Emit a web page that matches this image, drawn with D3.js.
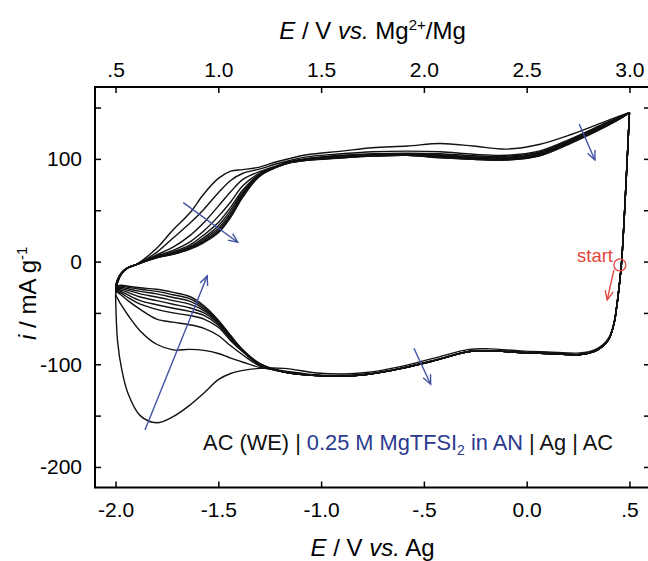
<!DOCTYPE html>
<html><head><meta charset="utf-8">
<script src="https://cdn.jsdelivr.net/npm/d3@7"></script>
<style>body{margin:0;background:#fff}svg{display:block}text{font-family:"Liberation Sans",Arial,Helvetica,sans-serif}</style>
</head><body><svg id="c" width="648" height="561"></svg>
<script>
// ---------- data ----------
// anodic (upper) branch potentials, E / V vs. Ag
const potentialUp = [-2.0,-1.99,-1.97,-1.94,-1.9,-1.8,-1.72,-1.64,-1.57,-1.5,-1.44,-1.38,-1.3,-1.22,-1.15,-1.07,-0.9,-0.75,-0.58,-0.42,-0.26,-0.1,0.06,0.22,0.39,0.47,0.5];
// cathodic (lower) branch potentials, E / V vs. Ag
const potentialDown = [0.5,0.462,0.452,0.44,0.425,0.4,0.37,0.33,0.26,0.1,-0.03,-0.18,-0.28,-0.45,-0.62,-0.78,-0.89,-1.02,-1.18,-1.3,-1.38,-1.44,-1.5,-1.57,-1.64,-1.72,-1.8,-1.88,-1.94,-1.97,-1.99,-2.0];

// currents (mA/g), upper branch per cycle
const up1  = [-32,-21,-12,-6.5,-3, 13,31,47,66,81,88,89.5,92,97,100.5, 104,107.6,110.8,112.5,115,112.5,109.5,114,124,137,143,145];
const up2  = [-32,-20,-11.5,-6,-3, 9,23,37,51,67,79,86,90,95,98.5, 102,105,107,107.6,107,104.5,103.5,107.5,120,135.5,142,145];
const up3  = [-29,-19,-11,-6,-3, 6.5,14,25,38,54,68,80,87.5,93,97.5, 100.5,103.5,105,105.5,105,103,102.5,106.5,119.5,135,142,145];
const up4  = [-28,-18.5,-11,-6,-3, 5.5,11,19,30,44,58,74,86,92.5,97, 100,102.8,104.3,104.8,104,102,101.5,105.5,118.5,134.5,141.8,145];
const up5  = [-28,-18.5,-11,-6,-3, 5,9.5,16,26,38,53,70,85,92.2,96.8, 99.7,102.3,103.8,104.3,103.3,101.3,100.8,104.8,117.8,134,141.6,145];
const up6  = [-27,-18,-11,-6,-3, 4.5,8.5,14.5,23.5,35,50,68,84.5,92,96.6, 99.4,101.9,103.4,103.9,102.7,100.8,100.2,104.2,117.2,133.5,141.4,145];
const up7  = [-26,-18,-11,-6,-3, 4.2,8,13.5,22,32.5,47.5,66.5,84,91.9,96.5, 99.1,101.6,103.1,103.7,102.2,100.4,99.8,103.7,116.7,133,141.3,145];
const up8  = [-25,-17.5,-10.5,-6,-3, 4,7.5,12.8,20.5,30.5,45.5,65,83.5,91.8,96.4, 98.9,101.3,102.9,103.5,101.7,100,99.3,103.3,116.3,132.6,141.2,145];
const up9  = [-25,-17.5,-10.5,-6,-3, 3.8,7.2,12.3,19.5,29,44,64,83.2,91.7,96.3, 98.7,101.1,102.8,103.4,101.3,99.7,99,103,116,132.3,141.1,145];
const up10 = [-25,-17,-10.5,-6,-3, 3.7,7,11.8,18.5,28,43,63,83,91.7,96.3, 98.5,101,102.7,103.4,101,99.5,98.8,102.7,115.7,132,141,145];

// currents (mA/g), lower branch per cycle (cycle 1 begins at the "start" point)
const down1  = [null,-4,-20,-40,-59,-74,-81,-86,-89,-88,-87,-85,-85.5,-94,-102.5,-108,-109.5,-108.5,-104, -104,-106,-109,-115,-128,-140,-151,-157,-150,-128,-105,-78,-32];
const down2  = [145,0,-20.5,-41,-60.5,-75.5,-82.5,-87.5,-90.5,-89.5,-88.5,-87,-87.5,-96,-104,-109.5,-111,-110.5,-106.5, -103,-98,-94,-89.5,-86.5,-85.5,-86,-80.5,-67.5,-52,-43,-36,-32];
const down3  = [145,0,-20.5,-41,-60.5,-75.5,-82.5,-87.5,-90.5,-89.5,-88.5,-87,-87.5,-96.5,-104.5,-110,-111.5,-111,-107.5, -101.5,-91,-82,-72,-65,-61.5,-59,-56,-46.5,-38,-33,-30,-29];
const down4  = [145,0,-20.5,-41,-60.5,-75.5,-82.5,-87.5,-90.5,-89.5,-88.5,-87,-87.5,-96.5,-104.5,-110,-111.5,-111,-107.5, -100.5,-88,-77,-64,-56,-52.5,-50,-46.5,-41.5,-35,-31,-29,-28];
const down5  = [145,0,-20.5,-41,-60.5,-75.5,-82.5,-87.5,-90.5,-89.5,-88.5,-87,-87.5,-96.5,-104.5,-110,-111.5,-111,-107.5, -100.2,-87.5,-75.5,-62,-52.5,-48.5,-45.5,-42,-38,-32.5,-29.5,-28,-28];
const down6  = [145,0,-20.5,-41,-60.5,-75.5,-82.5,-87.5,-90.5,-89.5,-88.5,-87,-87.5,-96.5,-104.5,-110,-111.5,-111,-107.5, -100,-87.2,-74.5,-60.5,-50,-45,-41.5,-38,-34.5,-30,-28,-27,-27];
const down7  = [145,0,-20.5,-41,-60.5,-75.5,-82.5,-87.5,-90.5,-89.5,-88.5,-87,-87.5,-96.5,-104.5,-110,-111.5,-111,-107.5, -99.7,-87,-73.8,-59.3,-47.8,-41.5,-38,-34.5,-31.5,-28,-26.5,-26,-26];
const down8  = [145,0,-20.5,-41,-60.5,-75.5,-82.5,-87.5,-90.5,-89.5,-88.5,-87,-87.5,-96.5,-104.5,-110,-111.5,-111,-107.5, -99.5,-86.7,-73,-58.3,-46,-38.5,-35,-31.5,-29,-26.5,-25,-25,-25];
const down9  = [145,0,-20.5,-41,-60.5,-75.5,-82.5,-87.5,-90.5,-89.5,-88.5,-87,-87.5,-96.5,-104.5,-110,-111.5,-111,-107.5, -99.2,-86.3,-72.5,-57.6,-44.5,-36,-32.3,-29,-27,-25,-24,-24,-25];
const down10 = [145,0,-20.5,-41,-60.5,-75.5,-82.5,-87.5,-90.5,-89.5,-88.5,-87,-87.5,-96.5,-104.5,-110,-111.5,-111,-107.5, -99,-86,-72,-57,-43,-34,-30,-27,-25.5,-24,-23,-23.5,-25];

const upCycles = [up1,up2,up3,up4,up5,up6,up7,up8,up9,up10];
const downCycles = [down1,down2,down3,down4,down5,down6,down7,down8,down9,down10];

const xTicks = [-2.0,-1.5,-1.0,-0.5,0.0,0.5];
const xTickLabels = ["-2.0","-1.5","-1.0","-.5","0.0",".5"];
const topTicks = [0.5,1.0,1.5,2.0,2.5,3.0];
const topTickLabels = [".5","1.0","1.5","2.0","2.5","3.0"];
const yTicks = [-200,-150,-100,-50,0,50,100,150];
const yTickLabels = ["-200","","-100","","0","","100",""];

// annotation arrows [E0,i0,E1,i1]
const blueArrows = [[-1.6705,57.4,-1.4059,18.8],[-1.857,-164,-1.554,-14],[0.2555,134,0.332,98.9],[-0.5485,-84.4,-0.467,-119.5]];
const redArrow = [0.4243,-8.2,0.3917,-37.4];
const startPoint = [0.4535,-3.3];

// ---------- chart ----------
const svg = d3.select("#c");
const L=95,R=650,T=87,B=487.5;
const x = d3.scaleLinear().domain([-2.1,0.6]).range([L,R]);
const xTop = d3.scaleLinear().domain([0.4,3.1]).range([L,R]);
const y = d3.scaleLinear().domain([-220,170]).range([B,T]);

svg.append("rect").attr("width",648).attr("height",561).attr("fill","#fff");
svg.append("defs").append("clipPath").attr("id","clip").append("rect")
  .attr("x",L).attr("y",T).attr("width",R-L).attr("height",B-T);

const fs = 21;
function styleAxis(g){
  g.select(".domain").remove();
  g.selectAll(".tick line").attr("stroke","#000").attr("stroke-width",1.5);
  g.selectAll(".tick text").attr("font-size",fs).attr("fill","#000")
   .attr("font-family",'"Liberation Sans",Arial,sans-serif');
}
svg.append("g").attr("transform",`translate(0,${B})`)
  .call(d3.axisBottom(x).tickValues(xTicks).tickSize(-6).tickPadding(14.5).tickFormat((d,i)=>xTickLabels[i]))
  .call(styleAxis);
svg.append("g").attr("transform",`translate(0,${T})`)
  .call(d3.axisTop(xTop).tickValues(topTicks).tickSize(-6).tickPadding(10).tickFormat((d,i)=>topTickLabels[i]))
  .call(styleAxis);
svg.append("g").attr("transform",`translate(${L},0)`)
  .call(d3.axisLeft(y).tickValues(yTicks).tickSize(-6).tickPadding(13).tickFormat((d,i)=>yTickLabels[i]))
  .call(styleAxis);
svg.append("g").attr("transform",`translate(${R},0)`)
  .call(d3.axisRight(y).tickValues(yTicks).tickSize(-6).tickFormat(""))
  .call(styleAxis);

// curves
const line = d3.line().defined(d=>d[1]!==null).x(d=>x(d[0])).y(d=>y(d[1])).curve(d3.curveCatmullRom.alpha(0.5));
const plot = svg.append("g").attr("clip-path","url(#clip)");
for(let c=0;c<upCycles.length;c++){
  const down = potentialDown.map((e,k)=>[e,downCycles[c][k]]);
  const upp = potentialUp.map((e,k)=>[e,upCycles[c][k]]);
  plot.append("path").attr("d",line(down)).attr("fill","none").attr("stroke","#111").attr("stroke-width",1.4);
  plot.append("path").attr("d",line(upp)).attr("fill","none").attr("stroke","#111").attr("stroke-width",1.4);
}

// frame
svg.append("rect").attr("x",L).attr("y",T).attr("width",R-L).attr("height",B-T)
  .attr("fill","none").attr("stroke","#000").attr("stroke-width",2);

// arrows
function arrow(a,color,w){
  const x0=x(a[0]),y0=y(a[1]),x1=x(a[2]),y1=y(a[3]);
  const ang=Math.atan2(y1-y0,x1-x0), hl=10, ha=0.42;
  const g=svg.append("g").attr("stroke",color).attr("stroke-width",w).attr("fill","none");
  g.append("line").attr("x1",x0).attr("y1",y0).attr("x2",x1).attr("y2",y1);
  g.append("path").attr("d",`M${x1-hl*Math.cos(ang-ha)},${y1-hl*Math.sin(ang-ha)}L${x1},${y1}L${x1-hl*Math.cos(ang+ha)},${y1-hl*Math.sin(ang+ha)}`);
}
blueArrows.forEach(a=>arrow(a,"#4052a3",1.4));
arrow(redArrow,"#e2453c",1.3);
svg.append("circle").attr("cx",x(startPoint[0])).attr("cy",y(startPoint[1])).attr("r",6)
  .attr("fill","none").attr("stroke","#e2453c").attr("stroke-width",1.3);
svg.append("text").attr("x",x(0.42)).attr("y",y(-0.4)).attr("text-anchor","end")
  .attr("font-size",18.5).attr("fill","#e2453c").text("start");

// cell annotation
const ann = svg.append("text").attr("x",x(-1.574)).attr("y",y(-183.5)).attr("font-size",21.8).attr("fill","#111");
ann.append("tspan").text("AC (WE) | ");
ann.append("tspan").attr("fill","#2b3a8e").text("0.25 M MgTFSI");
ann.append("tspan").attr("fill","#2b3a8e").attr("font-size",14).attr("dy",5).text("2");
ann.append("tspan").attr("fill","#2b3a8e").attr("dy",-5).text(" in AN");
ann.append("tspan").text(" | Ag | AC");

// axis titles
const cx=(L+R)/2;
const tt = svg.append("text").attr("x",cx).attr("y",39).attr("text-anchor","middle").attr("font-size",24).attr("fill","#000");
tt.append("tspan").attr("font-style","italic").text("E");
tt.append("tspan").text(" / V ");
tt.append("tspan").attr("font-style","italic").text("vs.");
tt.append("tspan").text(" Mg");
tt.append("tspan").attr("font-size",15).attr("dy",-9).text("2+");
tt.append("tspan").attr("dy",9).text("/Mg");

const bt = svg.append("text").attr("x",cx).attr("y",556).attr("text-anchor","middle").attr("font-size",24).attr("fill","#000");
bt.append("tspan").attr("font-style","italic").text("E");
bt.append("tspan").text(" / V ");
bt.append("tspan").attr("font-style","italic").text("vs.");
bt.append("tspan").text(" Ag");

const lt = svg.append("text").attr("transform",`translate(36,${(T+B)/2+6}) rotate(-90)`).attr("text-anchor","middle").attr("font-size",24).attr("fill","#000");
lt.append("tspan").attr("font-style","italic").text("i");
lt.append("tspan").text(" / mA g");
lt.append("tspan").attr("font-size",15).attr("dy",-9).text("-1");
</script></body></html>
